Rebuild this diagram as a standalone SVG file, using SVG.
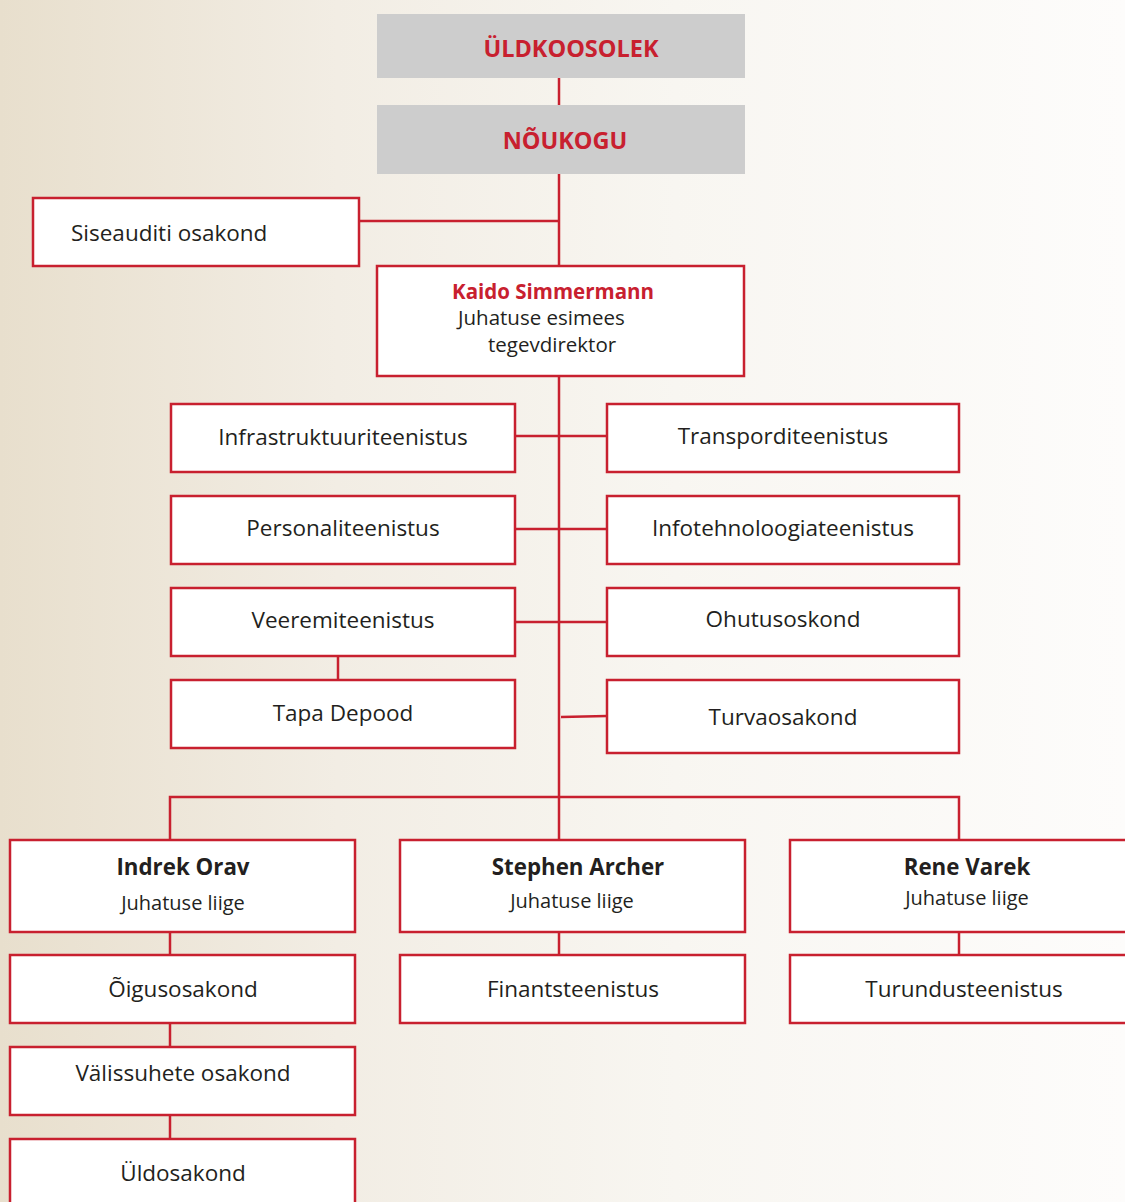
<svg xmlns="http://www.w3.org/2000/svg" width="1125" height="1202" viewBox="0 0 1125 1202">
<defs>
<linearGradient id="bg" x1="0" y1="0" x2="1" y2="0">
<stop offset="0" stop-color="#e8dfcd"/>
<stop offset="0.3" stop-color="#f2ede4"/>
<stop offset="0.6" stop-color="#f8f6f1"/>
<stop offset="1" stop-color="#fdfcfb"/>
</linearGradient>
<style>
.box{fill:#ffffff;stroke:#c8202f;stroke-width:2.5}
.gray{fill:#cdcdcd}
.ln{stroke:#c8202f;stroke-width:2.5;fill:none}
.t{font-family:"Open Sans","Liberation Sans",sans-serif;font-size:22.5px;fill:#231f20;text-anchor:middle}
.h{font-family:"Open Sans","Liberation Sans",sans-serif;font-size:22.5px;font-weight:bold;fill:#c8202f;text-anchor:middle}
.n{font-family:"Open Sans","Liberation Sans",sans-serif;font-size:22.3px;font-weight:bold;fill:#231f20;text-anchor:middle}
.s{font-family:"Open Sans","Liberation Sans",sans-serif;font-size:20px;fill:#231f20;text-anchor:middle}
</style>
</defs>
<rect x="0" y="0" width="1125" height="1202" fill="url(#bg)"/>
<g id="connectors">
<path class="ln" d="M559 78V105"/>
<path class="ln" d="M559 174V266"/>
<path class="ln" d="M359 221H559"/>
<path class="ln" d="M559 376V797"/>
<path class="ln" d="M515 436H607"/>
<path class="ln" d="M515 529H607"/>
<path class="ln" d="M515 622H607"/>
<path class="ln" d="M561 717L607 716"/>
<path class="ln" d="M338 656V680"/>
<path class="ln" d="M170 840V797H959V840"/>
<path class="ln" d="M559 797V840"/>
<path class="ln" d="M170 932V955"/>
<path class="ln" d="M559 932V955"/>
<path class="ln" d="M959 932V955"/>
<path class="ln" d="M170 1023V1047"/>
<path class="ln" d="M170 1115V1139"/>
</g>
<g id="uldkoosolek"><rect class="gray" x="377" y="14" width="368" height="64"/><text class="h" x="571" y="57" style="font-size:23.5px">ÜLDKOOSOLEK</text></g>
<g id="noukogu"><rect class="gray" x="377" y="105" width="368" height="69"/><text class="h" x="565" y="149" style="font-size:23.5px">NÕUKOGU</text></g>
<g id="siseauditi"><rect class="box" x="33" y="198" width="326" height="68"/><text class="t" x="71" y="241" style="text-anchor:start">Siseauditi osakond</text></g>
<g id="kaido"><rect class="box" x="377" y="266" width="367" height="110"/>
<text class="h" x="553" y="299" style="font-size:20.5px">Kaido Simmermann</text>
<text class="t" x="458" y="325" style="text-anchor:start;font-size:20.5px">Juhatuse esimees</text>
<text class="t" x="488" y="352" style="text-anchor:start;font-size:20.5px">tegevdirektor</text></g>
<g id="infrastruktuur"><rect class="box" x="171" y="404" width="344" height="68"/><text class="t" x="343" y="445">Infrastruktuuriteenistus</text></g>
<g id="transport"><rect class="box" x="607" y="404" width="352" height="68"/><text class="t" x="783" y="444">Transporditeenistus</text></g>
<g id="personal"><rect class="box" x="171" y="496" width="344" height="68"/><text class="t" x="343" y="536">Personaliteenistus</text></g>
<g id="infotehnoloogia"><rect class="box" x="607" y="496" width="352" height="68"/><text class="t" x="783" y="536">Infotehnoloogiateenistus</text></g>
<g id="veeremi"><rect class="box" x="171" y="588" width="344" height="68"/><text class="t" x="343" y="628">Veeremiteenistus</text></g>
<g id="ohutus"><rect class="box" x="607" y="588" width="352" height="68"/><text class="t" x="783" y="627">Ohutusoskond</text></g>
<g id="tapa"><rect class="box" x="171" y="680" width="344" height="68"/><text class="t" x="343" y="721">Tapa Depood</text></g>
<g id="turva"><rect class="box" x="607" y="680" width="352" height="73"/><text class="t" x="783" y="725">Turvaosakond</text></g>
<g id="indrek"><rect class="box" x="10" y="840" width="345" height="92"/><text class="n" x="183" y="875">Indrek Orav</text><text class="s" x="183" y="910">Juhatuse liige</text></g>
<g id="stephen"><rect class="box" x="400" y="840" width="345" height="92"/><text class="n" x="578" y="875">Stephen Archer</text><text class="s" x="572" y="908">Juhatuse liige</text></g>
<g id="rene"><rect class="box" x="790" y="840" width="345" height="92"/><text class="n" x="967" y="875">Rene Varek</text><text class="s" x="967" y="905">Juhatuse liige</text></g>
<g id="oigus"><rect class="box" x="10" y="955" width="345" height="68"/><text class="t" x="183" y="997">Õigusosakond</text></g>
<g id="finants"><rect class="box" x="400" y="955" width="345" height="68"/><text class="t" x="573" y="997">Finantsteenistus</text></g>
<g id="turundus"><rect class="box" x="790" y="955" width="345" height="68"/><text class="t" x="964" y="997">Turundusteenistus</text></g>
<g id="valissuhete"><rect class="box" x="10" y="1047" width="345" height="68"/><text class="t" x="183" y="1081">Välissuhete osakond</text></g>
<g id="uldosakond"><rect class="box" x="10" y="1139" width="345" height="80"/><text class="t" x="183" y="1181">Üldosakond</text></g>
</svg>
